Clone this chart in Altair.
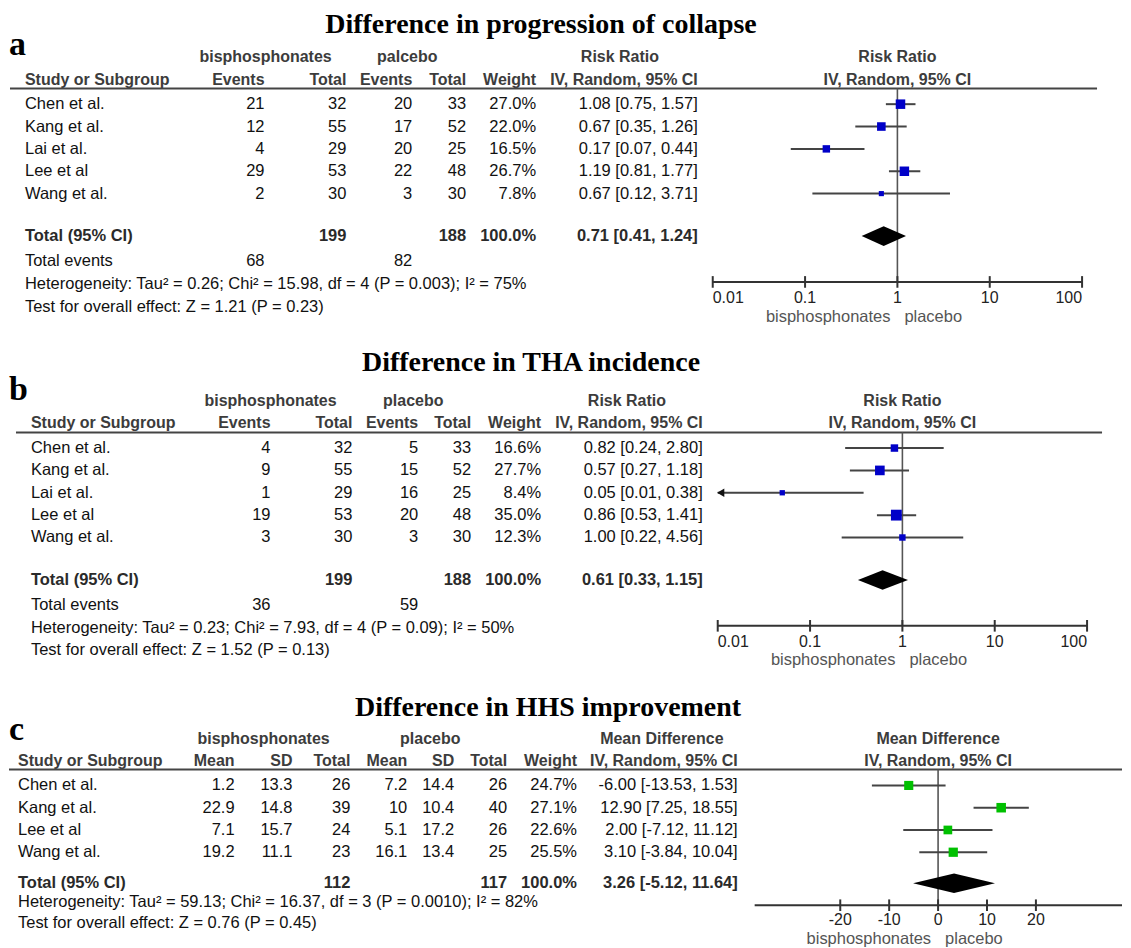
import altair as alt
import pandas as pd

# ---------------- data ----------------
studies_ab = ["Chen et al.", "Kang et al.", "Lai et al.", "Lee et al", "Wang et al."]

a_bis_events = [21, 12, 4, 29, 2]
a_bis_total = [32, 55, 29, 53, 30]
a_pla_events = [20, 17, 20, 22, 3]
a_pla_total = [33, 52, 25, 48, 30]
a_weight = [27.0, 22.0, 16.5, 26.7, 7.8]
a_rr = [1.08, 0.67, 0.17, 1.19, 0.67]
a_lo = [0.75, 0.35, 0.07, 0.81, 0.12]
a_hi = [1.57, 1.26, 0.44, 1.77, 3.71]
a_sum_total = [199, 188]
a_sum_events = [68, 82]
a_pooled = [0.71, 0.41, 1.24]
a_notes = ["Heterogeneity: Tau\u00b2 = 0.26; Chi\u00b2 = 15.98, df = 4 (P = 0.003); I\u00b2 = 75%",
           "Test for overall effect: Z = 1.21 (P = 0.23)"]

b_bis_events = [4, 9, 1, 19, 3]
b_bis_total = [32, 55, 29, 53, 30]
b_pla_events = [5, 15, 16, 20, 3]
b_pla_total = [33, 52, 25, 48, 30]
b_weight = [16.6, 27.7, 8.4, 35.0, 12.3]
b_rr = [0.82, 0.57, 0.05, 0.86, 1.00]
b_lo = [0.24, 0.27, 0.01, 0.53, 0.22]
b_hi = [2.80, 1.18, 0.38, 1.41, 4.56]
b_sum_total = [199, 188]
b_sum_events = [36, 59]
b_pooled = [0.61, 0.33, 1.15]
b_notes = ["Heterogeneity: Tau\u00b2 = 0.23; Chi\u00b2 = 7.93, df = 4 (P = 0.09); I\u00b2 = 50%",
           "Test for overall effect: Z = 1.52 (P = 0.13)"]

studies_c = ["Chen et al.", "Kang et al.", "Lee et al", "Wang et al."]
c_bis_mean = [1.2, 22.9, 7.1, 19.2]
c_bis_sd = [13.3, 14.8, 15.7, 11.1]
c_bis_total = [26, 39, 24, 23]
c_pla_mean = [7.2, 10, 5.1, 16.1]
c_pla_sd = [14.4, 10.4, 17.2, 13.4]
c_pla_total = [26, 40, 26, 25]
c_weight = [24.7, 27.1, 22.6, 25.5]
c_md = [-6.00, 12.90, 2.00, 3.10]
c_lo = [-13.53, 7.25, -7.12, -3.84]
c_hi = [1.53, 18.55, 11.12, 10.04]
c_sum_total = [112, 117]
c_pooled = [3.26, -5.12, 11.64]
c_notes = ["Heterogeneity: Tau\u00b2 = 59.13; Chi\u00b2 = 16.37, df = 3 (P = 0.0010); I\u00b2 = 82%",
           "Test for overall effect: Z = 0.76 (P = 0.45)"]

rr_ticks = [0.01, 0.1, 1, 10, 100]
rr_tick_labels = ["0.01", "0.1", "1", "10", "100"]
md_ticks = [-20, -10, 0, 10, 20]
md_tick_labels = ["-20", "-10", "0", "10", "20"]

# ---------------- styles ----------------
SANS = "Liberation Sans"
SERIF = "Liberation Serif"
BODY = "#111111"
HEAD = "#3c3c3c"
FS = 16.5
HFS = 16


def fmt_ci(e, l, h):
    return f"{e:.2f} [{l:.2f}, {h:.2f}]"


def fmt_num(v):
    return f"{v:g}"


def panel(P):
    yscale = alt.Scale(domain=[0, 10], range=[P["y0"], P["y0"] + 10 * P["step"]],
                       zero=False, nice=False)
    xs = P["xscale"]

    def Y(f="r"):
        return alt.Y(f + ":Q", scale=yscale, axis=None)

    def X(f):
        return alt.X(f + ":Q", scale=xs, axis=None)

    layers = []

    def text_at(r, t, px, align, bold=False, color=BODY, size=FS):
        df = pd.DataFrame({"r": [float(v) for v in r], "t": [str(v) for v in t]})
        layers.append(
            alt.Chart(df).mark_text(align=align, baseline="middle", font=SANS, fontSize=size,
                                    fontWeight="bold" if bold else "normal", color=color)
            .encode(x=alt.value(px), y=Y(), text="t:N"))

    def text_scaled(r, v, t, align, dx=0, bold=False, color=BODY, size=FS):
        df = pd.DataFrame({"r": [float(x) for x in r], "v": v, "t": [str(x) for x in t]})
        layers.append(
            alt.Chart(df).mark_text(align=align, baseline="middle", dx=dx, font=SANS, fontSize=size,
                                    fontWeight="bold" if bold else "normal", color=color)
            .encode(x=X("v"), y=Y(), text="t:N"))

    # title and panel letter
    layers.append(
        alt.Chart(pd.DataFrame({"t": [P["title"]]}))
        .mark_text(align="center", baseline="alphabetic", font=SERIF, fontSize=28,
                   fontWeight="bold", color="#000000")
        .encode(x=alt.value(P["title_x"]), y=alt.value(P["title_y"]), text="t:N"))
    layers.append(
        alt.Chart(pd.DataFrame({"t": [P["letter"]]}))
        .mark_text(align="left", baseline="alphabetic", font=SERIF, fontSize=34,
                   fontWeight="bold", color="#000000")
        .encode(x=alt.value(0), y=alt.value(P["letter_y"]), text="t:N"))

    # header rows
    for t, px, al in P["hdr1"]:
        text_at([P["r_h1"]], [t], px, al, bold=True, color=HEAD, size=HFS)
    for t, px, al in P["hdr2"]:
        text_at([P["r_h2"]], [t], px, al, bold=True, color=HEAD, size=HFS)
    text_scaled([P["r_h1"]], [P["null"]], [P["effect_label"]], "center", bold=True, color=HEAD, size=HFS)
    text_scaled([P["r_h2"]], [P["null"]], ["IV, Random, 95% CI"], "center", bold=True, color=HEAD, size=HFS)

    # header line
    layers.append(
        alt.Chart(pd.DataFrame({"r": [P["r_line"]]}))
        .mark_rule(color="#444444", strokeWidth=2)
        .encode(x=alt.value(P["line"][0]), x2=alt.value(P["line"][1]), y=Y()))

    # study rows
    n = len(P["est"])
    rows = list(range(n))
    for vals, px, al in P["cols"]:
        text_at(rows, vals, px, al)

    # total row (bold)
    for t, px, al in P["total_row"]:
        text_at([P["r_total"]], [t], px, al, bold=True, color="#2a2a2a")
    # total events row
    for t, px, al in P.get("events_row", []):
        text_at([P["r_events"]], [t], px, al)
    # notes
    text_at(P["r_notes"], P["notes"], P["notes_x"], "left")

    # ----- forest plot -----
    dmin, dmax = P["dmin"], P["dmax"]
    # null line
    layers.append(
        alt.Chart(pd.DataFrame({"v": [P["null"]], "ra": [P["r_line"]], "rb": [P["r_axis"]]}))
        .mark_rule(color="#555555", strokeWidth=1.6)
        .encode(x=X("v"), y=Y("ra"), y2="rb:Q"))
    # axis line
    layers.append(
        alt.Chart(pd.DataFrame({"v1": [dmin], "v2": [dmax], "r": [P["r_axis"]]}))
        .mark_rule(color="#333333", strokeWidth=2)
        .encode(x=X("v1"), x2="v2:Q", y=Y()))
    # ticks
    layers.append(
        alt.Chart(pd.DataFrame({"v": P["ticks"],
                                "ra": [P["r_axis"] - 0.26] * len(P["ticks"]),
                                "rb": [P["r_axis"] + 0.26] * len(P["ticks"])}))
        .mark_rule(color="#333333", strokeWidth=2)
        .encode(x=X("v"), y=Y("ra"), y2="rb:Q"))
    # tick labels
    for al in ["left", "center", "right"]:
        idx = [i for i, a in enumerate(P["tick_align"]) if a == al]
        if idx:
            text_scaled([P["r_ticklab"]] * len(idx), [P["ticks"][i] for i in idx],
                        [P["tick_labels"][i] for i in idx], al, color="#222222", size=16)
    # favours labels
    text_scaled([P["r_sub"]], [P["null"]], ["bisphosphonates"], "right", dx=-7, color="#555555", size=16.5)
    text_scaled([P["r_sub"]], [P["null"]], ["placebo"], "left", dx=7, color="#555555", size=16.5)

    # confidence intervals
    ci = pd.DataFrame({"r": [float(i) for i in rows], "est": P["est"],
                       "lo": [max(v, dmin) for v in P["lo"]],
                       "hi": [min(v, dmax) for v in P["hi"]], "w": P["w"]})
    layers.append(
        alt.Chart(ci).mark_rule(color="#444444", strokeWidth=2)
        .encode(x=X("lo"), x2="hi:Q", y=Y()))
    arrows = pd.DataFrame({"r": [float(i) for i in rows if P["lo"][i] <= dmin],
                           "v": [dmin for i in rows if P["lo"][i] <= dmin]})
    if len(arrows):
        layers.append(
            alt.Chart(arrows).mark_point(shape="triangle-left", filled=True, color="#111111",
                                         size=70, opacity=1, xOffset=3)
            .encode(x=X("v"), y=Y()))
    layers.append(
        alt.Chart(ci).mark_point(shape="square", filled=True, opacity=1, color=P["color"])
        .encode(x=X("est"), y=Y(),
                size=alt.Size("w:Q", scale=alt.Scale(domain=[0, 35], range=[0, 118]), legend=None)))
    # pooled diamond
    e, l, h = P["pooled"]
    rt = P["r_total"]
    hh = 0.44
    dia = pd.DataFrame({"dx": [l, e, h], "dy": [rt, rt - hh, rt], "dy2": [rt, rt + hh, rt]})
    layers.append(
        alt.Chart(dia).mark_area(color="#000000", opacity=1, interpolate="linear")
        .encode(x=X("dx"), y=Y("dy"), y2="dy2:Q"))

    return alt.layer(*layers).properties(width=1115, height=P["height"])


rr_align = ["left", "center", "center", "center", "right"]

A = dict(
    title="Difference in progression of collapse", letter="a",
    height=335, y0=95.5, step=22.4, title_x=533, title_y=24, letter_y=46,
    line=(1, 1090), r_h1=-2.1, r_h2=-1.1, r_line=-0.7,
    hdr1=[("bisphosphonates", 257, "center"), ("palcebo", 399, "center"), ("Risk Ratio", 612, "center")],
    hdr2=[("Study or Subgroup", 16, "left"), ("Events", 256, "right"), ("Total", 338, "right"),
          ("Events", 404, "right"), ("Total", 458, "right"), ("Weight", 528, "right"),
          ("IV, Random, 95% CI", 690, "right")],
    cols=[(studies_ab, 16, "left"), (a_bis_events, 256, "right"), (a_bis_total, 338, "right"),
          (a_pla_events, 404, "right"), (a_pla_total, 458, "right"),
          ([f"{w:.1f}%" for w in a_weight], 528, "right"),
          ([fmt_ci(e, l, h) for e, l, h in zip(a_rr, a_lo, a_hi)], 690, "right")],
    total_row=[("Total (95% CI)", 16, "left"), (a_sum_total[0], 338, "right"), (a_sum_total[1], 458, "right"),
               ("100.0%", 528, "right"), (fmt_ci(*a_pooled), 690, "right")],
    r_total=5.9,
    events_row=[("Total events", 16, "left"), (a_sum_events[0], 256, "right"), (a_sum_events[1], 404, "right")],
    r_events=7.02, notes=a_notes, r_notes=[8.05, 9.05], notes_x=16,
    xscale=alt.Scale(type="log", domain=[0.01, 100], range=[705, 1075]),
    null=1, est=a_rr, lo=a_lo, hi=a_hi, w=a_weight, pooled=a_pooled,
    ticks=rr_ticks, tick_labels=rr_tick_labels, tick_align=rr_align,
    r_axis=7.95, r_ticklab=8.68, r_sub=9.5, effect_label="Risk Ratio", color="#0000c8",
    dmin=0.01, dmax=100,
)

B = dict(
    title="Difference in THA incidence", letter="b",
    height=337, y0=105, step=22.4, title_x=523, title_y=28, letter_y=57,
    line=(7, 1095), r_h1=-2.1, r_h2=-1.1, r_line=-0.7,
    hdr1=[("bisphosphonates", 262, "center"), ("placebo", 405, "center"), ("Risk Ratio", 619, "center")],
    hdr2=[("Study or Subgroup", 22, "left"), ("Events", 262, "right"), ("Total", 344, "right"),
          ("Events", 410, "right"), ("Total", 463, "right"), ("Weight", 533, "right"),
          ("IV, Random, 95% CI", 695, "right")],
    cols=[(studies_ab, 22, "left"), (b_bis_events, 262, "right"), (b_bis_total, 344, "right"),
          (b_pla_events, 410, "right"), (b_pla_total, 463, "right"),
          ([f"{w:.1f}%" for w in b_weight], 533, "right"),
          ([fmt_ci(e, l, h) for e, l, h in zip(b_rr, b_lo, b_hi)], 695, "right")],
    total_row=[("Total (95% CI)", 22, "left"), (b_sum_total[0], 344, "right"), (b_sum_total[1], 463, "right"),
               ("100.0%", 533, "right"), (fmt_ci(*b_pooled), 695, "right")],
    r_total=5.9,
    events_row=[("Total events", 22, "left"), (b_sum_events[0], 262, "right"), (b_sum_events[1], 410, "right")],
    r_events=7.02, notes=b_notes, r_notes=[8.05, 9.05], notes_x=22,
    xscale=alt.Scale(type="log", domain=[0.01, 100], range=[710, 1080]),
    null=1, est=b_rr, lo=b_lo, hi=b_hi, w=b_weight, pooled=b_pooled,
    ticks=rr_ticks, tick_labels=rr_tick_labels, tick_align=rr_align,
    r_axis=7.95, r_ticklab=8.68, r_sub=9.5, effect_label="Risk Ratio", color="#0000c8",
    dmin=0.01, dmax=100,
)

C = dict(
    title="Difference in HHS improvement", letter="c",
    height=268, y0=106, step=22.3, title_x=540, title_y=36, letter_y=60,
    line=(0, 1115), r_h1=-2.1, r_h2=-1.12, r_line=-0.72,
    hdr1=[("bisphosphonates", 255, "center"), ("placebo", 422, "center"), ("Mean Difference", 654, "center")],
    hdr2=[("Study or Subgroup", 9, "left"), ("Mean", 226, "right"), ("SD", 284, "right"),
          ("Total", 342, "right"), ("Mean", 399, "right"), ("SD", 446, "right"),
          ("Total", 499, "right"), ("Weight", 569, "right"), ("IV, Random, 95% CI", 730, "right")],
    cols=[(studies_c, 9, "left"), ([fmt_num(v) for v in c_bis_mean], 226, "right"),
          ([fmt_num(v) for v in c_bis_sd], 284, "right"), (c_bis_total, 342, "right"),
          ([fmt_num(v) for v in c_pla_mean], 399, "right"), ([fmt_num(v) for v in c_pla_sd], 446, "right"),
          (c_pla_total, 499, "right"), ([f"{w:.1f}%" for w in c_weight], 569, "right"),
          ([fmt_ci(e, l, h) for e, l, h in zip(c_md, c_lo, c_hi)], 730, "right")],
    total_row=[("Total (95% CI)", 9, "left"), (c_sum_total[0], 342, "right"), (c_sum_total[1], 499, "right"),
               ("100.0%", 569, "right"), (fmt_ci(*c_pooled), 730, "right")],
    r_total=4.39, notes=c_notes, r_notes=[5.25, 6.19], notes_x=9,
    xscale=alt.Scale(type="linear", domain=[-37.5, 37.6], range=[747, 1115], zero=False, nice=False),
    null=0, est=c_md, lo=c_lo, hi=c_hi, w=c_weight, pooled=c_pooled,
    ticks=md_ticks, tick_labels=md_tick_labels, tick_align=["center"] * 5,
    r_axis=5.38, r_ticklab=6.05, r_sub=6.88, effect_label="Mean Difference", color="#00c000",
    dmin=-37.5, dmax=37.6,
)

chart = (
    alt.vconcat(panel(A), panel(B), panel(C), spacing=0)
    .properties(padding=0, background="white")
    .configure_view(stroke=None)
)

chart.save("out.html", embed_options={"renderer": "svg", "actions": False})
